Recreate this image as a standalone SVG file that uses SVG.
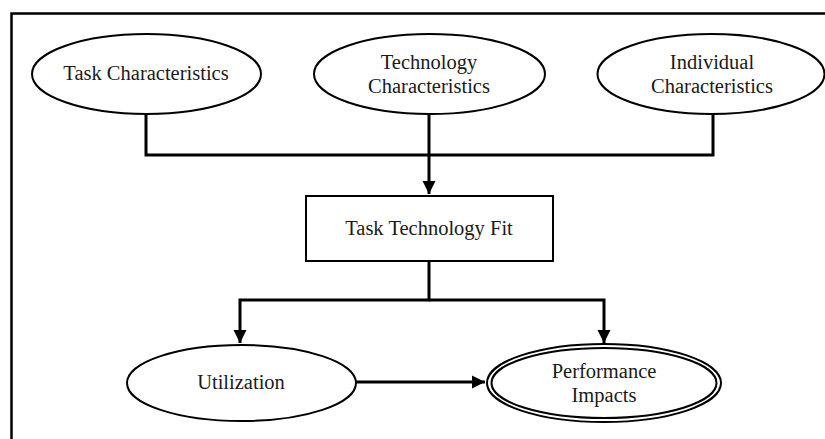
<svg xmlns="http://www.w3.org/2000/svg" width="825" height="439" viewBox="0 0 825 439">
<defs>
<marker id="ah" viewBox="0 0 10 10" refX="10" refY="5" markerWidth="4.5" markerHeight="4.5" orient="auto" markerUnits="strokeWidth">
<path d="M0,0 L10,5 L0,10 z" fill="#000"/>
</marker>
<style>
.n{fill:#fff;stroke:#000;stroke-width:2}
.t{font-family:"Liberation Serif","Times New Roman",serif;font-size:20.5px;fill:#1a1a1a;text-anchor:middle}
.c{fill:none;stroke:#000;stroke-width:3}
</style>
</defs>
<rect width="825" height="439" fill="#fff"/>
<path d="M11.5,439 V13.5 H825" fill="none" stroke="#000" stroke-width="2.5"/>
<g id="connectors">
<path class="c" d="M146,114 V155 H713 V114"/>
<path class="c" d="M429,114 V194" marker-end="url(#ah)"/>
<path class="c" d="M429,261 V300 H240 V343" marker-end="url(#ah)"/>
<path class="c" d="M429,300 H604 V343" marker-end="url(#ah)"/>
<path class="c" d="M356,382 H485" marker-end="url(#ah)"/>
</g>
<g id="task">
<ellipse class="n" cx="146.5" cy="74" rx="114.5" ry="40"/>
<text class="t" x="146" y="80">Task Characteristics</text>
</g>
<g id="technology">
<ellipse class="n" cx="429.5" cy="74" rx="115.5" ry="40"/>
<text class="t" x="429" y="69">Technology</text>
<text class="t" x="429" y="93">Characteristics</text>
</g>
<g id="individual">
<ellipse class="n" cx="711" cy="74" rx="113.5" ry="40"/>
<text class="t" x="712" y="69">Individual</text>
<text class="t" x="712" y="93">Characteristics</text>
</g>
<g id="ttf">
<rect class="n" x="306" y="196" width="247" height="65"/>
<text class="t" x="429" y="235">Task Technology Fit</text>
</g>
<g id="utilization">
<ellipse class="n" cx="241.5" cy="383" rx="114.5" ry="38"/>
<text class="t" x="241" y="389">Utilization</text>
</g>
<g id="performance">
<ellipse class="n" cx="604" cy="383" rx="117" ry="39"/>
<ellipse class="n" cx="604" cy="383" rx="112.5" ry="35"/>
<text class="t" x="604" y="378">Performance</text>
<text class="t" x="604" y="402">Impacts</text>
</g>
</svg>
